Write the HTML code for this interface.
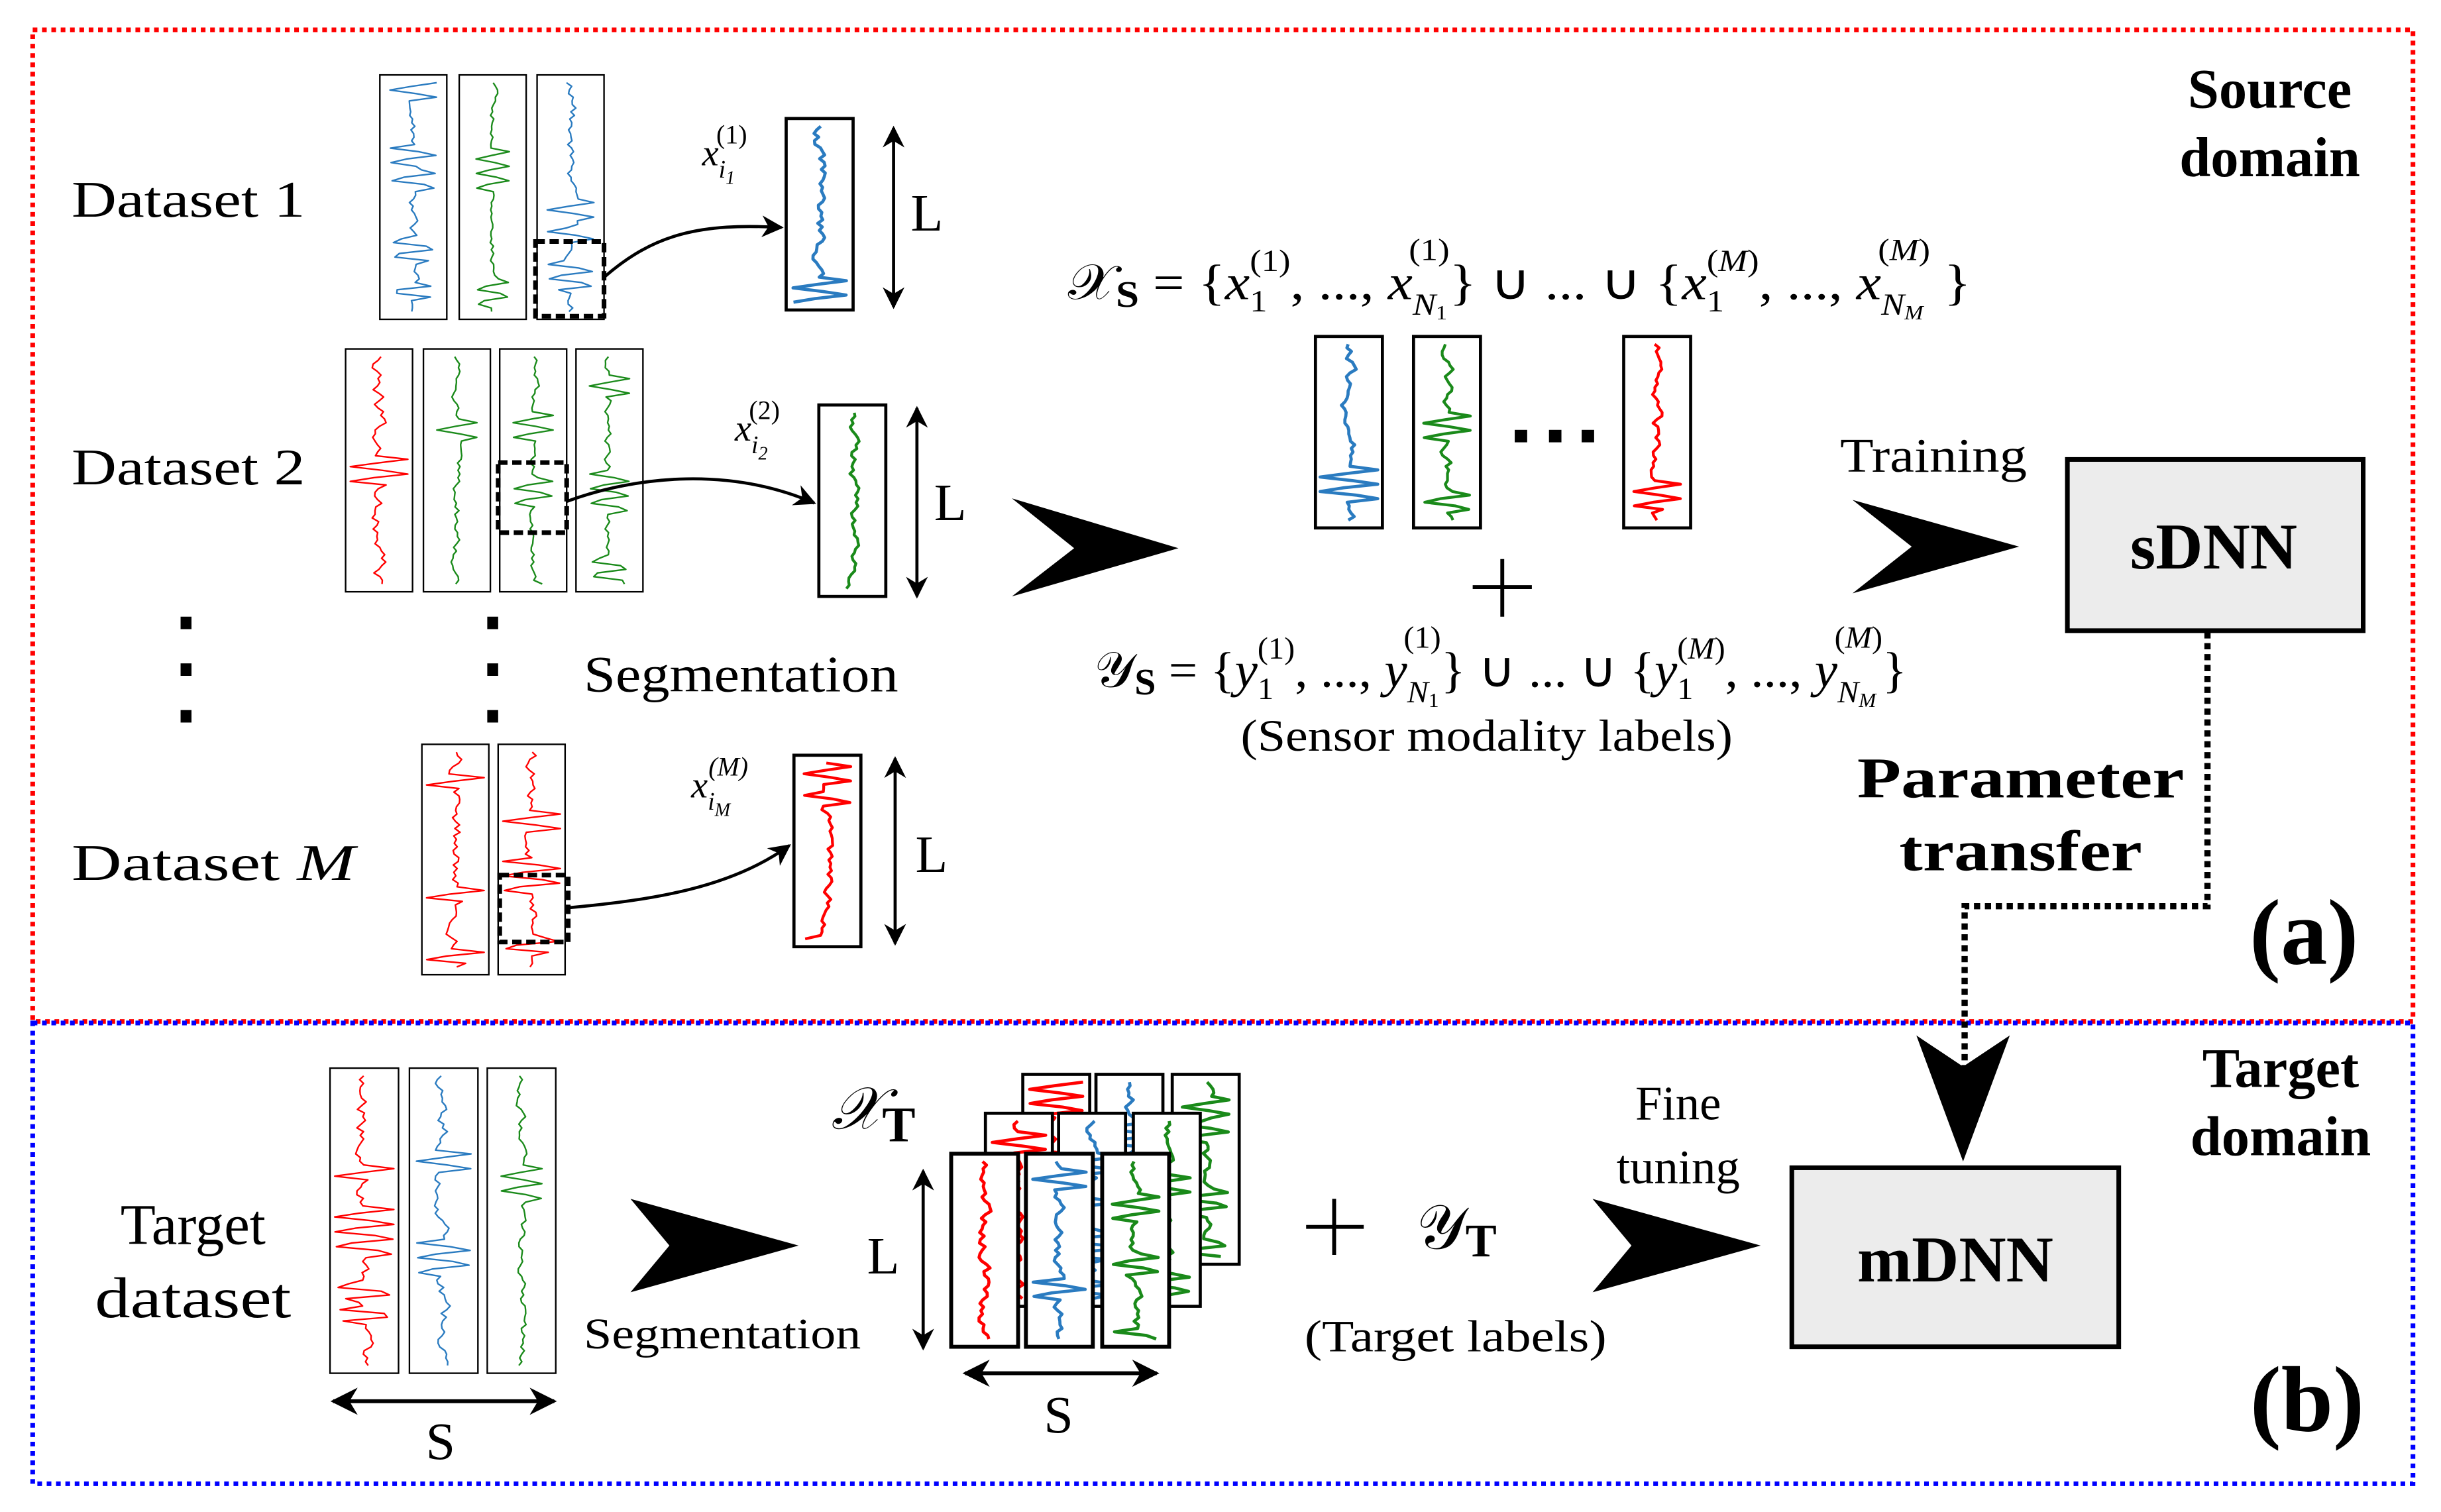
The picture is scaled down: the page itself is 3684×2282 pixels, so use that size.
<!DOCTYPE html>
<html><head><meta charset="utf-8"><style>
html,body{margin:0;padding:0;background:#fff;}
svg{display:block;}
text{font-family:"Liberation Serif",serif;fill:#000;}
.b{font-weight:bold;}
.i{font-style:italic;}
</style></head><body>
<svg id="s" width="3684" height="2282" viewBox="0 0 1568 971" xmlns="http://www.w3.org/2000/svg">
<defs>
<marker id="ah" viewBox="0 0 10 10" refX="9" refY="5" markerWidth="7" markerHeight="7" orient="auto-start-reverse"><path d="M0,0 L10,5 L0,10 L3,5 Z" fill="#000"/></marker>
</defs>
<rect x="0" y="0" width="1568" height="971" fill="#fff"/>
<rect x="21" y="19" width="1529" height="637" fill="none" stroke="#f00" stroke-width="3" stroke-dasharray="3,3"/>
<rect x="21" y="657" width="1529" height="296" fill="none" stroke="#00f" stroke-width="3" stroke-dasharray="3,3"/>

<g id="sig"></g>

<rect x="344" y="155" width="44" height="48" fill="none" stroke="#000" stroke-width="3" stroke-dasharray="6,3"/>
<rect x="320" y="297" width="44" height="45" fill="none" stroke="#000" stroke-width="3" stroke-dasharray="6,3"/>
<rect x="321" y="562" width="44" height="43" fill="none" stroke="#000" stroke-width="3" stroke-dasharray="6,3"/>

<path d="M388,178 C420,150 450,143 502,146" fill="none" stroke="#000" stroke-width="2" marker-end="url(#ah)"/>
<path d="M364,322 C410,305 470,300 523,323" fill="none" stroke="#000" stroke-width="2" marker-end="url(#ah)"/>
<path d="M365,583 C420,578 470,570 507,543" fill="none" stroke="#000" stroke-width="2" marker-end="url(#ah)"/>

<line x1="574" y1="82" x2="574" y2="197" stroke="#000" stroke-width="2" marker-start="url(#ah)" marker-end="url(#ah)"/>
<text x="585" y="148" font-size="34">L</text>
<line x1="589" y1="262" x2="589" y2="383" stroke="#000" stroke-width="2" marker-start="url(#ah)" marker-end="url(#ah)"/>
<text x="600" y="334" font-size="34">L</text>
<line x1="575" y1="487" x2="575" y2="606" stroke="#000" stroke-width="2" marker-start="url(#ah)" marker-end="url(#ah)"/>
<text x="588" y="560" font-size="34">L</text>

<text x="46" y="139" font-size="33" textLength="150" lengthAdjust="spacingAndGlyphs">Dataset 1</text>
<text x="46" y="311" font-size="33" textLength="150" lengthAdjust="spacingAndGlyphs">Dataset 2</text>
<text x="46" y="565" font-size="33" textLength="182" lengthAdjust="spacingAndGlyphs">Dataset <tspan class="i">M</tspan></text>
<text x="375" y="444" font-size="33" textLength="202" lengthAdjust="spacingAndGlyphs">Segmentation</text>
<g fill="#000"><rect x="116" y="396" width="7" height="8"/><rect x="116" y="426" width="7" height="8"/><rect x="116" y="456" width="7" height="8"/>
<rect x="313" y="396" width="7" height="8"/><rect x="313" y="426" width="7" height="8"/><rect x="313" y="456" width="7" height="8"/></g>

<text x="451" y="106" font-size="24" class="i">x<tspan font-size="16" dy="8">i</tspan><tspan font-size="12" dy="4">1</tspan><tspan font-size="17" font-style="normal" dx="-12" dy="-26">(1)</tspan></text>
<text x="472" y="283" font-size="24" class="i">x<tspan font-size="16" dy="8">i</tspan><tspan font-size="12" dy="4">2</tspan><tspan font-size="17" font-style="normal" dx="-12" dy="-26">(2)</tspan></text>
<text x="444" y="512" font-size="24" class="i">x<tspan font-size="16" dy="8">i</tspan><tspan font-size="12" dy="4">M</tspan><tspan font-size="17" dx="-14" dy="-26">(M)</tspan></text>

<polygon points="650,320 757,352 650,383 690,352" fill="#000"/>
<polygon points="1190,321 1297,351 1190,381 1228,351" fill="#000"/>
<polygon points="405,770 513,800 405,830 430,800" fill="#000"/>
<polygon points="1023,770 1131,800 1023,830 1048,800" fill="#000"/>

<text x="686" y="192" font-size="32" textLength="580" lengthAdjust="spacingAndGlyphs">𝒳<tspan class="b" font-size="24" dy="5">S</tspan><tspan dy="-5"> = {</tspan><tspan class="i">x</tspan><tspan font-size="20" dy="8">1</tspan><tspan font-size="20" dx="-10" dy="-26">(1)</tspan><tspan dy="18">, ..., </tspan><tspan class="i">x</tspan><tspan font-size="20" class="i" dy="10">N</tspan><tspan font-size="13" dy="3">1</tspan><tspan font-size="20" dx="-22" dy="-38">(1)</tspan><tspan dy="25">} ∪ ... ∪ {</tspan><tspan class="i">x</tspan><tspan font-size="20" dy="8">1</tspan><tspan font-size="20" dx="-10" dy="-26">(<tspan class="i">M</tspan>)</tspan><tspan dy="18">, ..., </tspan><tspan class="i">x</tspan><tspan font-size="20" class="i" dy="10">N</tspan><tspan font-size="13" class="i" dy="3">M</tspan><tspan font-size="20" dx="-26" dy="-38">(<tspan class="i">M</tspan>)</tspan><tspan dy="25"> }</tspan></text>
<text x="703" y="441" font-size="32" textLength="522" lengthAdjust="spacingAndGlyphs">𝒴<tspan class="b" font-size="24" dy="5">S</tspan><tspan dy="-5"> = {</tspan><tspan class="i">y</tspan><tspan font-size="20" dy="8">1</tspan><tspan font-size="20" dx="-10" dy="-26">(1)</tspan><tspan dy="18">, ..., </tspan><tspan class="i">y</tspan><tspan font-size="20" class="i" dy="10">N</tspan><tspan font-size="13" dy="3">1</tspan><tspan font-size="20" dx="-22" dy="-38">(1)</tspan><tspan dy="25">} ∪ ... ∪ {</tspan><tspan class="i">y</tspan><tspan font-size="20" dy="8">1</tspan><tspan font-size="20" dx="-10" dy="-26">(<tspan class="i">M</tspan>)</tspan><tspan dy="18">, ..., </tspan><tspan class="i">y</tspan><tspan font-size="20" class="i" dy="10">N</tspan><tspan font-size="13" class="i" dy="3">M</tspan><tspan font-size="20" dx="-26" dy="-38">(<tspan class="i">M</tspan>)</tspan><tspan dy="25">}</tspan></text>
<text x="797" y="482" font-size="29" textLength="316" lengthAdjust="spacingAndGlyphs">(Sensor modality labels)</text>
<g fill="#000"><rect x="973" y="276" width="8" height="8"/><rect x="995" y="276" width="8" height="8"/><rect x="1016" y="276" width="8" height="8"/></g>
<path d="M965,359 V396 M946,377 H984" stroke="#000" stroke-width="2.5"/>
<text x="1182" y="303" font-size="31" textLength="120" lengthAdjust="spacingAndGlyphs">Training</text>

<rect x="1328" y="295" width="190" height="110" fill="#ececec" stroke="#000" stroke-width="3"/>
<text x="1422" y="365" font-size="42" class="b" text-anchor="middle">sDNN</text>
<text x="1458" y="69" font-size="36" class="b" text-anchor="middle">Source</text>
<text x="1458" y="113" font-size="36" class="b" text-anchor="middle">domain</text>
<text x="1193" y="512" font-size="37" class="b" textLength="210" lengthAdjust="spacingAndGlyphs">Parameter</text>
<text x="1220" y="559" font-size="37" class="b" textLength="156" lengthAdjust="spacingAndGlyphs">transfer</text>
<text x="1480" y="619" font-size="60" class="b" text-anchor="middle">(a)</text>
<path d="M1418,406 V582 H1262 V690" fill="none" stroke="#000" stroke-width="4" stroke-dasharray="4,3"/>
<polygon points="1231,665 1261,746 1291,665 1261,685" fill="#000"/>

<text x="1465" y="698" font-size="36" class="b" text-anchor="middle">Target</text>
<text x="1465" y="742" font-size="36" class="b" text-anchor="middle">domain</text>
<text x="124" y="799" font-size="37" text-anchor="middle">Target</text>
<text x="124" y="846" font-size="37" text-anchor="middle" textLength="126" lengthAdjust="spacingAndGlyphs">dataset</text>
<line x1="214" y1="900" x2="356" y2="900" stroke="#000" stroke-width="2.5" marker-start="url(#ah)" marker-end="url(#ah)"/>
<text x="283" y="937" font-size="34" text-anchor="middle">S</text>
<text x="375" y="866" font-size="28" textLength="178" lengthAdjust="spacingAndGlyphs">Segmentation</text>
<text x="534" y="725" font-size="38" class="i">𝒳<tspan class="b" font-style="normal" font-size="32" dy="8">T</tspan></text>
<line x1="593" y1="752" x2="593" y2="866" stroke="#000" stroke-width="2" marker-start="url(#ah)" marker-end="url(#ah)"/>
<text x="557" y="818" font-size="34">L</text>
<line x1="620" y1="882" x2="743" y2="882" stroke="#000" stroke-width="2.5" marker-start="url(#ah)" marker-end="url(#ah)"/>
<text x="680" y="920" font-size="34" text-anchor="middle">S</text>
<path d="M857,770 V806 M839,788 H876" stroke="#000" stroke-width="2.5"/>
<text x="910" y="802" font-size="40">𝒴<tspan class="b" font-size="30" dy="5">T</tspan></text>
<text x="838" y="868" font-size="29" textLength="194" lengthAdjust="spacingAndGlyphs">(Target labels)</text>
<text x="1078" y="719" font-size="31" text-anchor="middle">Fine</text>
<text x="1078" y="760" font-size="31" text-anchor="middle">tuning</text>
<rect x="1151" y="750" width="210" height="115" fill="#ececec" stroke="#000" stroke-width="3"/>
<text x="1256" y="823" font-size="42" class="b" text-anchor="middle">mDNN</text>
<text x="1482" y="919" font-size="60" class="b" text-anchor="middle">(b)</text>
</svg>
<script>
(function(){
var g=document.getElementById('sig');var ns='http://www.w3.org/2000/svg';
var seed=11;function r(){seed=(seed*16807)%2147483647;return seed/2147483647;}
var C={b:'#2a7bc0',g:'#1a8a1a',r:'#f00'};
function box(x,y,w,h,c,lw,sw,amp){
 var rc=document.createElementNS(ns,'rect');rc.setAttribute('x',x);rc.setAttribute('y',y);rc.setAttribute('width',w);rc.setAttribute('height',h);rc.setAttribute('fill','#fff');rc.setAttribute('stroke','#000');rc.setAttribute('stroke-width',sw);g.appendChild(rc);
 var p=[],n=Math.round(h/2.5),cx=x+w/2,v=0,burst=0,ph=0;
 for(var i=0;i<=n;i++){var yy=y+5+(h-10)*i/n;
  if(burst<=0 && r()<0.06){burst=4+Math.floor(r()*6);}
  var a;
  if(burst>0){burst--;ph+=1.6;a=Math.sin(ph)*w*amp;}
  else{v=v*0.7+(r()-0.5)*w*amp*0.35;a=v;}
  var xx=Math.max(x+3,Math.min(x+w-3,cx+a));p.push(xx.toFixed(1)+','+yy.toFixed(1));}
 var pl=document.createElementNS(ns,'polyline');pl.setAttribute('points',p.join(' '));pl.setAttribute('fill','none');pl.setAttribute('stroke',C[c]);pl.setAttribute('stroke-width',lw);pl.setAttribute('stroke-linejoin','round');g.appendChild(pl);
}
box(244,48,43,157,'b',1,1,0.35);box(295,48,43,157,'g',1,1,0.25);box(345,48,43,157,'b',1,1,0.35);
box(505,76,43,123,'b',2,2,0.4);
box(222,224,43,156,'r',1,1,0.45);box(272,224,43,156,'g',1,1,0.3);box(321,224,43,156,'g',1,1,0.3);box(370,224,43,156,'g',1,1,0.3);
box(526,260,43,123,'g',1.8,2,0.35);
box(271,478,43,148,'r',1,1,0.45);box(320,478,43,148,'r',1,1,0.45);
box(510,485,43,123,'r',1.8,2,0.35);
box(845,216,43,123,'b',2,2,0.45);box(908,216,43,123,'g',1.8,2,0.35);box(1043,216,43,123,'r',1.8,2,0.35);
box(212,686,44,196,'r',1,1,0.45);box(263,686,44,196,'b',1,1,0.4);box(313,686,44,196,'g',1,1,0.3);
box(657,690,43,122,'r',2,2,0.4);box(704,690,43,122,'b',2,2,0.4);box(753,690,43,122,'g',2,2,0.35);
box(633,715,43,124,'r',2,2,0.4);box(680,715,43,124,'b',2,2,0.4);box(728,715,43,124,'g',2,2,0.35);
box(611,741,43,124,'r',2,2.5,0.4);box(659,741,43,124,'b',2,2.5,0.4);box(708,741,43,124,'g',2,2.5,0.35);
})();
</script>
</body></html>
